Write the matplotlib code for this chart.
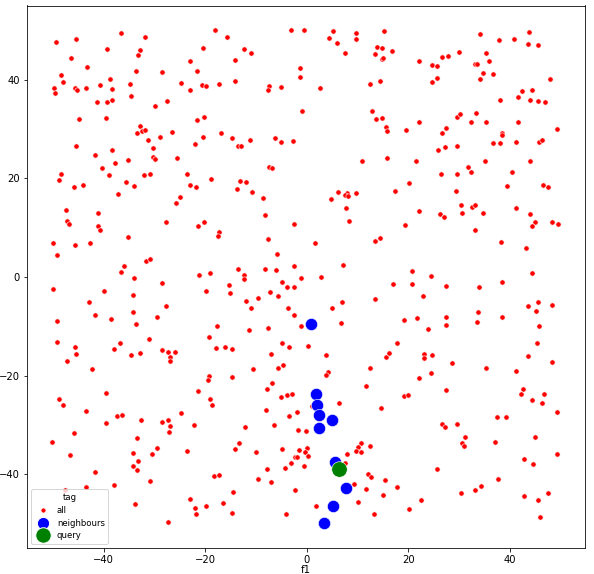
import matplotlib
matplotlib.use("Agg")
import matplotlib.pyplot as plt
from matplotlib.lines import Line2D
import numpy as np

# ---- data ----
all_x = [
 -49.4,-45.4,-36.6,-31.8,-39.3,-32.8,-33.2,-20.4,-46.4,-43.3,-22.9,-48.4,-48.1,-49.7,-49.5,-45.6,-45.2,-43.5,-38.8,-40.7,
 -38.3,-33.7,-28.5,-34.9,-24.8,-21.6,-23.0,-20.6,-19.8,-34.7,-41.3,-39.4,-38.3,-29.9,-27.6,-44.8,-39.5,-32.8,-33.5,-32.4,
 -31.8,-26.5,-29.0,-31.2,-20.3,-21.6,-20.4,-22.1,-45.4,-38.4,-30.2,-41.8,-35.3,-37.7,-30.3,-29.8,-25.5,-40.3,-38.9,-48.4,
 -48.8,-35.6,-32.1,-30.9,-23.5,-18.9,-45.8,-44.1,-34.0,-22.9,-21.9,
 -18.0,-15.7,-12.3,-11.0,-14.1,-3.1,-0.5,5.2,4.3,6.0,9.6,9.7,7.6,15.3,13.8,14.9,13.4,16.8,14.8,15.1,
 -1.3,-1.4,-17.3,-14.1,-7.5,-7.6,-5.1,2.6,12.5,14.4,-0.9,12.9,13.7,14.9,15.7,15.9,-16.8,-14.7,-13.6,-12.9,
 -11.2,-6.3,-5.1,-2.8,10.9,15.9,-7.5,-6.9,-13.1,-11.9,
 34.1,37.8,40.9,43.8,43.6,45.6,22.2,24.6,25.6,26.7,27.9,30.0,35.3,35.8,33.2,33.5,34.8,36.7,34.1,24.6,
 25.6,48.0,42.4,44.3,41.6,43.9,45.6,46.9,38.0,29.5,30.1,33.4,32.3,35.4,22.1,19.5,27.4,26.7,41.7,49.2,
 38.4,38.4,36.6,38.0,41.3,45.8,46.4,25.8,27.2,29.6,21.6,35.1,44.0,31.8,32.3,40.4,26.5,29.6,20.2,39.4,
 46.6,47.6,
 -37.2,-24.9,-25.8,-47.5,-41.2,-47.3,-46.9,-41.2,-40.7,-27.7,-20.2,-21.5,-35.3,-49.9,-45.6,-42.7,-49.2,-31.7,-30.9,-35.9,
 -36.5,-34.0,-28.5,-21.3,-19.1,-50.0,-39.9,-34.3,-19.8,-42.9,-27.7,-41.8,-34.3,-38.5,-29.5,-33.7,-49.2,-19.2,-31.1,-49.2,
 -36.8,-45.6,-45.4,-38.0,-34.7,-32.8,-28.5,-27.3,-25.9,-27.0,-26.9,-47.2,-42.2,
 -13.7,-10.7,-8.6,6.1,4.8,7.9,7.5,8.1,9.6,17.4,-8.3,-2.5,7.8,8.3,-17.3,-17.5,-7.6,1.6,13.5,14.5,
 -5.9,-13.5,-12.3,-12.4,-8.2,-6.1,-2.5,-1.1,2.8,7.1,17.0,-15.4,-15.2,-4.9,-3.8,-2.5,-7.2,-5.6,-9.7,-11.9,
 -11.0,-3.6,-2.5,5.0,6.9,13.5,-17.7,-11.4,-7.6,-1.1,6.7,-17.8,-16.2,-14.7,-4.9,-3.4,0.2,-7.1,-4.7,-5.6,
 -10.5,3.7,12.4,15.6,16.2,17.8,
 29.4,22.2,26.3,27.1,30.4,32.6,33.2,30.6,34.8,41.3,43.9,44.9,44.4,48.3,49.4,19.3,33.2,38.2,43.2,20.8,
 24.5,20.8,27.5,33.9,38.5,44.3,22.8,43.6,45.5,48.3,45.1,33.7,27.5,27.5,33.6,38.5,21.7,19.2,23.9,45.7,
 45.3,23.1,23.1,24.6,28.6,43.5,48.3,35.3,
 -19.3,-19.4,-21.5,-19.0,-18.7,-39.5,-48.7,-48.1,-43.4,-39.5,-37.3,-36.3,-32.7,-28.5,-27.3,-26.9,-27.1,-24.8,-22.3,-45.9,
 -50.2,-33.4,-29.4,-30.4,-34.3,-33.2,-34.2,-33.4,-23.5,-46.6,-41.8,-30.9,-37.9,-43.5,-47.6,-22.9,-22.1,-21.9,-19.9,-33.8,
 -27.3,
 -14.8,4.2,3.7,-6.9,-7.8,-5.0,-3.8,-3.0,11.6,1.0,6.3,14.7,-8.1,-2.0,-3.5,-12.2,-6.4,-1.8,-0.2,-13.4,
 -14.1,-9.9,-4.9,-1.6,0.0,-0.3,0.2,-2.3,-1.9,-3.2,-0.6,-4.2,-7.9,7.9,10.7,10.1,9.6,10.7,12.5,7.5,
 -18.2,-17.3,-9.6,-7.0,12.0,12.6,15.5,9.4,11.7,17.7,15.1,-2.4,-14.5,-16.5,-14.7,-4.0,1.8,10.0,13.2,
 41.2,22.1,24.5,19.2,19.9,27.5,42.6,42.2,46.7,44.3,46.4,49.3,37.4,39.3,26.7,27.2,29.5,31.1,30.6,30.9,
 37.0,45.0,49.3,42.8,44.6,25.6,37.6,30.4,33.1,34.4,42.8,45.6,47.5,22.5,20.1,45.9,
]
all_y = [
 47.7,48.4,49.5,48.7,46.3,46.0,45.0,46.5,44.4,42.6,43.9,40.9,39.5,38.3,37.4,38.4,38.0,38.3,40.1,39.0,
 38.1,41.8,41.6,39.2,39.4,41.8,38.0,38.9,38.7,36.7,35.5,35.6,36.0,34.7,35.8,32.1,32.2,30.6,29.3,29.6,
 29.8,29.5,28.5,27.8,32.4,31.9,28.4,27.0,26.5,25.7,26.2,24.7,23.7,23.2,24.3,23.9,24.2,22.2,20.7,20.9,
 19.7,19.3,20.6,20.9,20.9,19.9,18.3,18.6,18.4,18.6,18.3,
 50.1,48.8,46.3,45.4,44.0,50.1,50.1,50.0,48.5,47.4,49.5,48.3,45.4,50.0,46.7,46.5,45.2,45.9,44.2,44.4,
 42.4,40.5,39.2,39.7,38.8,37.9,38.6,38.3,39.2,39.8,33.6,33.6,32.1,32.2,30.5,29.7,29.2,28.3,26.6,26.5,
 27.9,28.3,27.3,27.5,23.5,24.2,22.4,22.2,19.5,19.3,
 49.3,48.0,48.2,49.8,47.3,47.0,43.8,43.1,42.9,44.6,44.9,45.7,45.4,43.9,43.3,43.3,41.4,41.2,40.2,39.6,
 40.3,40.1,37.8,38.0,36.5,36.0,35.8,35.6,35.9,32.5,33.0,33.3,31.4,31.5,31.5,29.9,30.2,29.2,31.5,30.1,
 29.3,28.8,27.2,27.1,27.4,27.3,27.9,25.7,26.3,26.6,23.5,23.5,23.5,22.3,21.3,21.4,20.9,21.0,19.1,18.5,
 18.7,18.3,
 16.9,16.2,15.1,13.6,13.0,11.4,10.8,10.3,9.6,11.1,11.1,10.3,8.2,6.9,6.4,7.0,4.4,3.3,3.6,2.3,
 1.0,-0.2,-1.2,0.4,0.8,-2.5,-2.9,-3.7,-2.8,-5.1,-5.9,-7.7,-7.2,-8.5,-8.1,-9.6,-9.0,-12.1,-12.6,-13.1,
 -13.3,-14.3,-15.6,-14.7,-15.8,-15.4,-14.8,-15.3,-15.2,-16.2,-17.1,-17.1,-18.7,
 17.9,17.3,16.0,17.3,15.8,17.1,16.6,16.4,17.0,17.5,12.5,10.8,14.0,11.3,9.1,8.4,7.8,6.8,7.4,7.9,
 4.6,1.7,0.5,-0.5,1.7,1.4,2.2,-0.2,-0.1,2.4,-1.5,-1.7,-3.2,-1.0,-2.1,-2.1,-3.0,-3.8,-4.3,-4.8,
 -6.2,-6.3,-7.7,-6.3,-5.0,-4.4,-9.9,-10.8,-10.3,-10.0,-9.3,-14.5,-14.3,-14.7,-13.3,-14.3,-14.1,-15.7,-17.9,-18.4,
 -18.7,-15.9,-18.4,-16.3,-15.4,-13.3,
 17.5,13.3,12.8,12.2,14.6,14.3,14.7,13.0,13.0,14.0,12.8,11.2,10.4,11.1,10.7,10.6,9.6,7.1,5.9,1.2,
 0.3,-1.5,-1.9,-2.1,-1.0,0.9,-3.9,-5.9,-5.1,-5.7,-6.9,-7.2,-8.1,-9.7,-9.2,-8.1,-8.3,-8.8,-10.6,-9.9,
 -13.4,-15.6,-16.5,-15.8,-17.4,-16.1,-17.2,-18.4,
 -20.1,-21.0,-23.1,-24.7,-25.9,-23.6,-24.7,-25.9,-27.1,-29.6,-28.2,-28.0,-29.1,-29.4,-29.1,-30.3,-31.5,-27.7,-30.0,-31.6,
 -33.4,-32.6,-34.8,-36.0,-35.8,-37.4,-38.4,-39.1,-35.4,-36.2,-39.5,-41.5,-42.2,-42.7,-43.2,-45.0,-46.8,-48.1,-46.5,-46.0,
 -49.8,
 -20.2,-19.2,-19.9,-21.6,-22.7,-24.4,-23.9,-23.8,-22.1,-26.1,-25.6,-26.6,-27.0,-27.3,-28.2,-30.5,-30.1,-31.1,-31.3,-33.6,
 -34.9,-35.6,-34.9,-35.1,-34.8,-35.6,-36.4,-36.6,-36.6,-37.7,-38.3,-38.7,-38.9,-36.0,-33.7,-34.6,-35.3,-35.5,-34.2,-37.7,
 -40.4,-40.1,-41.0,-41.7,-39.9,-40.6,-41.1,-42.0,-43.0,-42.7,-44.2,-43.3,-43.7,-45.9,-47.9,-48.1,-46.4,-45.7,-48.2,
 -19.0,-20.4,-19.5,-24.1,-23.9,-22.9,-22.7,-23.8,-23.8,-25.0,-25.5,-27.5,-28.5,-28.4,-29.8,-30.5,-29.8,-32.4,-33.7,-34.2,
 -33.5,-32.4,-35.9,-36.9,-37.9,-39.0,-40.9,-43.9,-43.3,-42.5,-44.5,-45.2,-43.9,-45.2,-47.1,-48.7,
]
neigh_x = [0.8, 1.8, 2.1, 2.4, 5.0, 2.4, 5.6, 7.7, 5.2, 3.3]
neigh_y = [-9.5, -23.7, -25.9, -28.0, -29.1, -30.7, -37.6, -42.8, -46.4, -49.9]
query_x = [6.4]
query_y = [-38.9]

tags = ["all", "neighbours", "query"]
colors = {"all": "#ff0000", "neighbours": "#0000ff", "query": "#008000"}
sizes = {"all": 28, "neighbours": 150, "query": 240}

W, H, DPI = 594, 574, 72
fig = plt.figure(figsize=(W / DPI, H / DPI), dpi=DPI)
ax = fig.add_axes([27 / W, 1 - 548 / H, (585 - 27) / W, (548 - 5.5) / H])

ax.scatter(all_x, all_y, s=sizes["all"], c=colors["all"], edgecolors="white", linewidths=0.6, zorder=2)
ax.scatter(neigh_x, neigh_y, s=sizes["neighbours"], c=colors["neighbours"], edgecolors="white", linewidths=0.6, zorder=3)
ax.scatter(query_x, query_y, s=sizes["query"], c=colors["query"], edgecolors="white", linewidths=0.6, zorder=4)

ax.set_xlim(-55.1, 54.8)
ax.set_ylim(-55.0, 55.1)
ax.set_xticks([-40, -20, 0, 20, 40])
ax.set_yticks([-40, -20, 0, 20, 40])
ax.set_xlabel("f1")
ax.xaxis.set_label_coords(0.5, -0.031)

handles = [Line2D([0], [0], marker="o", linestyle="none", markerfacecolor=colors[t],
                  markeredgecolor="white", markersize=np.sqrt(sizes[t]))
           for t in tags]
ax.legend(handles, tags, title="tag", loc="lower left", fontsize=8.5, title_fontsize=8.5,
          borderpad=0.4, labelspacing=0.45, handletextpad=0.6)

fig.savefig("out.png", dpi=DPI)
